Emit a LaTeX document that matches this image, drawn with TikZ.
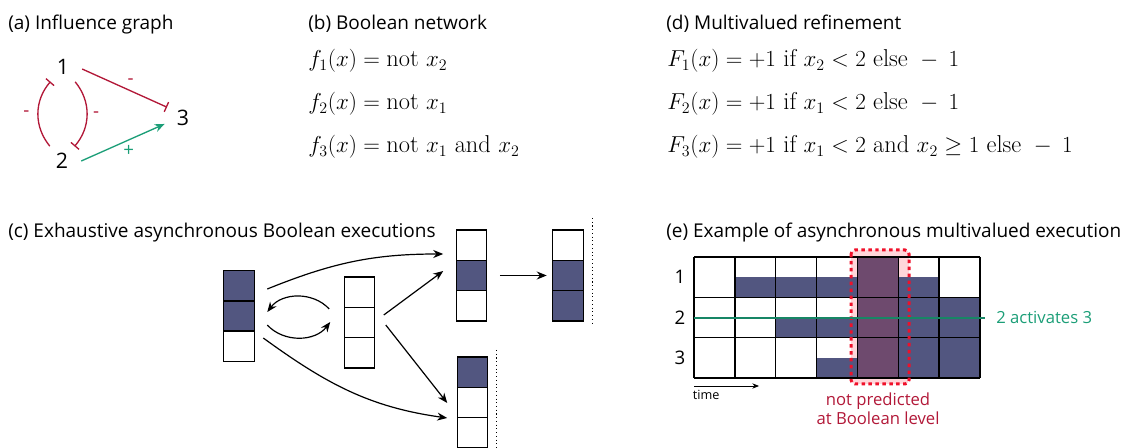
\documentclass[tikz,border=0pt]{standalone}
\usepackage{amsmath,amssymb}
\usepackage{fontspec}
\setsansfont{Open Sans}
\usetikzlibrary{positioning,calc,arrows.meta}

\definecolor{inhred}{RGB}{178,24,56}
\definecolor{actgreen}{RGB}{27,158,119}
\definecolor{boolon}{RGB}{82,86,128}
\definecolor{hilite}{RGB}{110,74,110}
\definecolor{pinkbg}{RGB}{255,214,218}
\definecolor{dotred}{RGB}{240,16,42}

\tikzset{
  title/.style={anchor=base west, inner sep=0pt, font=\sffamily\fontsize{14.25}{17}\selectfont},
  eqn/.style={anchor=base west, inner sep=0pt, font=\fontsize{18.3}{21}\selectfont},
  gnode/.style={circle, minimum size=28.5pt, inner sep=0pt, font=\sffamily\fontsize{16}{18}\selectfont},
  sign/.style={inner sep=1pt, font=\sffamily\fontsize{14}{16}\selectfont},
  inh/.style={inhred, line width=1pt, -{Bar[width=8pt, line width=1pt]}},
  act/.style={actgreen, line width=1pt, -{Stealth[length=7.5pt, width=6pt]}},
  colbox/.style={minimum width=22.9pt, minimum height=68.25pt, inner sep=0pt, outer sep=0pt},
  cell/.style={line width=1.1pt},
  flow/.style={line width=0.9pt, -{Stealth[length=7.5pt, width=6pt]}},
  fixline/.style={line width=0.8pt, dotted},
  rowlab/.style={inner sep=0pt, font=\sffamily\fontsize{14}{16}\selectfont},
  note/.style={font=\sffamily\fontsize{12.5}{14.25}\selectfont},
}

% one Boolean state as a column of three cells
\newcommand{\statecol}[5]{%
  \node[colbox] (#1) at (#2) {};
  \foreach \v [count=\i from 0] in {#3,#4,#5}{
    \ifnum\v=1 \def\cellfill{boolon}\else\def\cellfill{white}\fi
    \draw[cell, fill=\cellfill] ($(#1.north west)+(0,-30.33*\i)$) rectangle +(30.5,-30.33);
  }
}

\begin{document}
\begin{tikzpicture}[x=0.75pt, y=0.75pt]
  \useasboundingbox (0,0) rectangle (1123,-448);

  % Titles
  \node[title] (ta) at (8,-30) {(a) Influence graph};
  \node[title] (tb) at (308,-30) {(b) Boolean network};
  \node[title] (td) at (666,-30) {(d) Multivalued refinement};
  \node[title] (tc) at (8,-238) {(c) Exhaustive asynchronous Boolean executions};
  \node[title] (te) at (666,-238) {(e) Example of asynchronous multivalued execution};

  % (a) influence graph
  \node[gnode] (n1) at (63,-67) {1};
  \node[gnode] (n2) at (62,-161) {2};
  \node[gnode] (n3) at (183,-118) {3};
  \draw[inh] (n1.-6) -- (n3.146) node[sign, text=inhred, pos=0.57, above=3pt] {-};
  \draw[act] (n2.0) -- (n3.198) node[sign, text=actgreen, pos=0.57, below=3pt] {+};
  \draw[inh] (n2) to[bend left=40] node[sign, text=inhred, left=5pt] {-} (n1);
  \draw[inh] (n1) to[bend left=40] node[sign, text=inhred, right=3pt] {-} (n2);

  % (b) Boolean network
  \node[eqn] (f1) at (308,-67) {$f_1(x) = \mathrm{not}\ x_2$};
  \node[eqn] (f2) at (308,-110) {$f_2(x) = \mathrm{not}\ x_1$};
  \node[eqn] (f3) at (308,-153) {$f_3(x) = \mathrm{not}\ x_1\ \mathrm{and}\ x_2$};

  % (d) multivalued refinement
  \node[eqn] (F1) at (667,-67) {$F_1(x) = +1\ \mathrm{if}\ x_2 < 2\ \mathrm{else}\ - \: 1$};
  \node[eqn] (F2) at (667,-110) {$F_2(x) = +1\ \mathrm{if}\ x_1 < 2\ \mathrm{else}\ - \: 1$};
  \node[eqn] (F3) at (667,-153) {$F_3(x) = +1\ \mathrm{if}\ x_1 < 2\ \mathrm{and}\ x_2 \geq 1\ \mathrm{else}\ - \: 1$};

  % (c) asynchronous Boolean executions
  \statecol{sA}{239,-316}{1}{1}{0}
  \statecol{sB}{359.5,-322.5}{0}{0}{0}
  \statecol{sC}{471.5,-275.5}{0}{1}{0}
  \statecol{sD}{568,-275.5}{0}{1}{1}
  \statecol{sE}{472.5,-402.5}{1}{0}{0}
  \draw[flow] ($(sA.east)+(13,27)$) to[out=22, in=180] ($(sC.west)+(-13,21.5)$);
  \draw[flow] ($(sB.west)+(-15,13.5)$) to[bend right=50] ($(sA.east)+(13,4)$);
  \draw[flow] ($(sA.east)+(13,-9)$) to[bend right=50] ($(sB.west)+(-14,0.5)$);
  \draw[flow] ($(sB.east)+(9,7.5)$) -- ($(sC.west)+(-13,4.5)$);
  \draw[flow] ($(sB.east)+(11,-2.5)$) -- ($(sE.west)+(-10,-0.5)$);
  \draw[flow] ($(sA.east)+(9,-22)$) to[out=-36, in=172] ($(sE.west)+(-10,-15.5)$);
  \draw[flow] ($(sC.east)+(13,0)$) -- ($(sD.west)+(-6,0)$);
  \draw[fixline] ($(sD.north east)+(9,12)$) -- ($(sD.south east)+(9,-4)$);
  \draw[fixline] ($(sE.north east)+(9,7)$) -- ($(sE.south east)+(9,0)$);

  % (e) multivalued execution
  \fill[pinkbg, rounded corners=3pt] (851,-250) rectangle (909,-384);
  \begin{scope}[shift={(694,-257)}]
    \foreach \row/\levels in {0/{0,1,1,1,2,1,0}, 1/{0,0,1,1,2,2,2}, 2/{0,0,0,1,2,2,2}}{
      \foreach \l [count=\c from 0] in \levels{
        \ifnum\l>0 \fill[boolon] (\c*40.86, -\row*40.33-40.33) rectangle +(40.86, \l*20.165); \fi
      }
    }
    \fill[hilite] (4*40.86,0) rectangle (5*40.86,-121);
    \foreach \c in {0,...,7} \draw[cell] (\c*40.86,0) -- (\c*40.86,-121);
    \foreach \r in {0,...,3} \draw[cell] (0,-\r*40.33) -- (286,-\r*40.33);
    \coordinate (g2) at (0,-60.7);
  \end{scope}
  \draw[dotred, line width=2.25pt, dash pattern=on 2.6pt off 2.6pt, rounded corners=3pt] (851,-250) rectangle (909,-384);
  \node[rowlab] (r1) at (680,-277) {1};
  \node[rowlab] (r2) at (680,-318) {2};
  \node[rowlab] (r3) at (680,-358) {3};
  \node[note, text=actgreen, anchor=west, inner sep=8.25pt] (act3) at (985,-317.7) {2 activates 3};
  \draw[actgreen!85!black, line width=1.3pt] (g2) -- (act3.west);
  \coordinate (t0) at (694,-386);
  \coordinate (t1) at (759,-386);
  \draw[line width=0.6pt, -{Stealth[length=5pt, width=4pt]}] (t0) -- (t1);
  \node[anchor=north west, inner sep=0pt, font=\sffamily\fontsize{9.5}{11}\selectfont, below right=3pt and -1pt of t0] (tm) {time};
  \node[note, text=inhred, align=center, anchor=north, inner sep=0pt] (np) at (878,-393) {not predicted\\at Boolean level};
\end{tikzpicture}
\end{document}
